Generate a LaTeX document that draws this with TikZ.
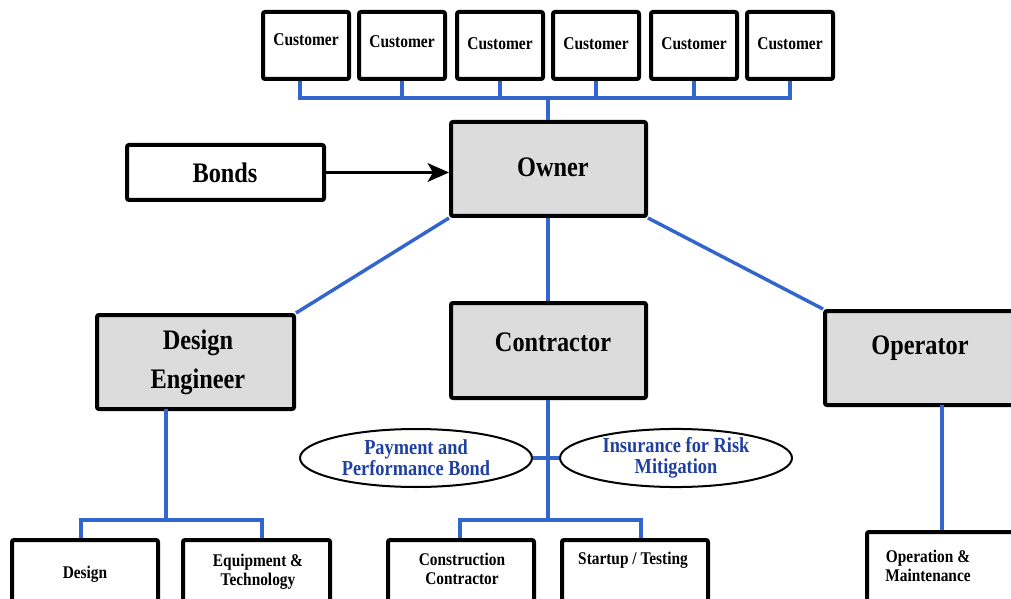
\documentclass[tikz,border=0pt]{standalone}
\usepackage{fontspec}
\setmainfont[FakeStretch=0.86]{Liberation Serif}
\usetikzlibrary{shapes.geometric,fit,arrows.meta}
\definecolor{conn}{RGB}{51,102,204}
\definecolor{boxgray}{RGB}{220,220,220}
\definecolor{ovaltext}{RGB}{32,64,160}
\begin{document}
\begin{tikzpicture}[x=0.75pt,y=-0.75pt,
  wbox/.style={draw=black,line width=3pt,rounded corners=1.5pt,inner sep=0pt,fill=white},
  gbox/.style={wbox,fill=boxgray},
  link/.style={draw=conn,line width=2.6pt},
  bigtext/.style={font=\fontsize{21.2pt}{26pt}\selectfont\bfseries,align=center,inner sep=0pt},
  ctext/.style={font=\fontsize{13.5pt}{14pt}\selectfont\bfseries,align=center,inner sep=0pt},
  stext/.style={font=\fontsize{13.4pt}{14.5pt}\selectfont\bfseries,align=center,inner sep=0pt},
  oval/.style={draw=black,line width=1.5pt,ellipse,inner sep=0pt,minimum width=174pt,minimum height=43.5pt,
    font=\fontsize{16pt}{16pt}\selectfont\bfseries,text=ovaltext,align=center}
]
\useasboundingbox (0,0) rectangle (1011,599);
\clip (0,0) rectangle (1011,599);

% Customers
\node[wbox,fit={(263,12) (349,79)}] (c1) {};
\node[wbox,fit={(359,12) (445,79)}] (c2) {};
\node[wbox,fit={(457,12) (543,79)}] (c3) {};
\node[wbox,fit={(553,12) (639,79)}] (c4) {};
\node[wbox,fit={(651,12) (737,79)}] (c5) {};
\node[wbox,fit={(747,12) (833,79)}] (c6) {};
\node[ctext] (t1) at (306,40) {Customer};
\node[ctext] (t2) at (402,42) {Customer};
\node[ctext] (t3) at (500,44) {Customer};
\node[ctext] (t4) at (596,44) {Customer};
\node[ctext] (t5) at (694,44) {Customer};
\node[ctext] (t6) at (790,44) {Customer};

% main boxes
\node[gbox,fit={(451,122) (646,216)}] (owner) {};
\node[bigtext] (townr) at (553,167) {Owner};
\node[wbox,fit={(127,145) (324,200)}] (bonds) {};
\node[bigtext] (tbonds) at (225,173) {Bonds};
\node[gbox,fit={(97,315) (294,409)}] (de) {};
\node[bigtext] (tde) at (198,362) {Design\\[3pt]Engineer};
\node[gbox,fit={(451,303) (646,398)}] (con) {};
\node[bigtext] (tcon) at (553,342) {Contractor};
\node[gbox,fit={(825,311) (1030,405)}] (op) {};
\node[bigtext] (top) at (920,348) {Operator};

% ellipses
\node[oval] (pay) at (416,458) {Payment and\\Performance Bond};
\node[oval] (ins) at (676,458) {Insurance for Risk\\Mitigation};

% bottom boxes
\node[wbox,fit={(12,540) (158,625)}] (design) {};
\node[stext] (tdesign) at (85,574) {Design};
\node[wbox,fit={(183,540) (330,625)}] (equip) {};
\node[stext] (tequip) at (258,572) {Equipment \&\\Technology};
\node[wbox,fit={(388,540) (534,625)}] (cc) {};
\node[stext] (tcc) at (462,569) {Construction\\Contractor};
\node[wbox,fit={(562,540) (708,625)}] (st) {};
\node[stext] (tst) at (633,560) {Startup / Testing};
\node[wbox,fit={(867,532) (1017,625)}] (om) {};
\node[stext] (tom) at (928,566) {Operation \&\\Maintenance};

% connector coordinates
\coordinate (busC) at (548,98);
\coordinate (cbus) at (548,520);
\coordinate (deb) at (166,409);
\coordinate (debus) at (166,520);
\coordinate (dtap) at (81,520);
\coordinate (etap) at (262,520);
\coordinate (cctap) at (460,520);
\coordinate (sttap) at (641,520);
\coordinate (opb) at (942,405);

% customer bus
\begin{scope}[link]
\draw (c1.south -| 300,0) -- (300,98) -- (c6.south |- busC) -- (c6.south);
\draw (c2.south) -- (c2.south |- busC);
\draw (c3.south) -- (c3.south |- busC);
\draw (c4.south) -- (c4.south |- busC);
\draw (c5.south) -- (c5.south |- busC);
\draw (busC) -- (owner.north -| busC);
\end{scope}

% owner links
\draw[link] (owner.south west) -- (de.north east);
\draw[link] (owner.south -| busC) -- (con.north -| busC);
\draw[link] (owner.south east) -- (op.north west);

% contractor tree
\draw[link] (con.south -| busC) -- (cbus);
\draw[link] (cctap |- cc.north) -- (cctap) -- (sttap) -- (sttap |- st.north);
\draw[link] (pay.east) -- (ins.west);

% design tree
\draw[link] (deb) -- (debus);
\draw[link] (dtap |- design.north) -- (dtap) -- (etap) -- (etap |- equip.north);

% operator
\draw[link] (opb) -- (opb |- om.north);

% bonds arrow
\draw[line width=2.2pt,-{Stealth[length=16pt,width=14pt,inset=4pt]}] (bonds.east) -- (bonds.east -| owner.west);
\end{tikzpicture}
\end{document}
